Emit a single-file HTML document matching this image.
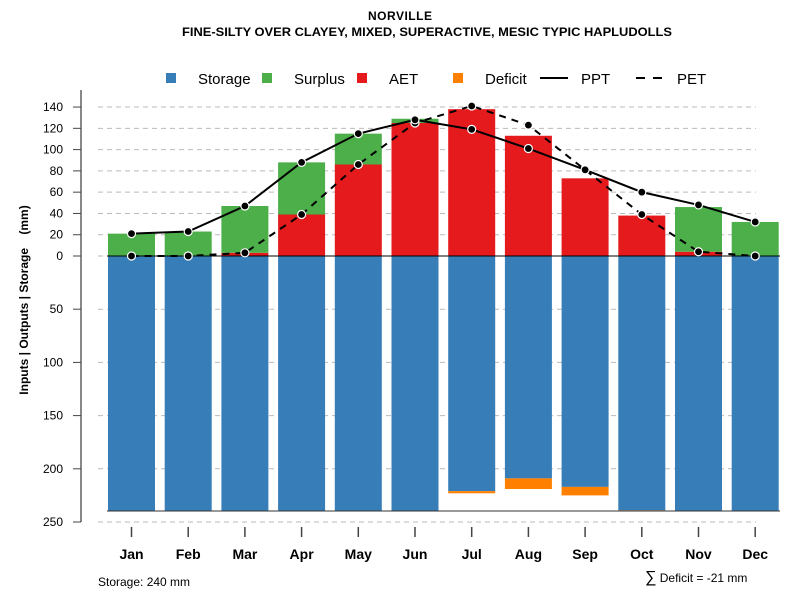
<!DOCTYPE html>
<html><head><meta charset="utf-8"><style>
body{margin:0;background:#fff;font-family:"Liberation Sans",Arial,sans-serif}
</style></head><body>
<svg width="800" height="600" viewBox="0 0 800 600" xmlns="http://www.w3.org/2000/svg" font-family="Liberation Sans, Arial, sans-serif">
<text x="400" y="20" text-anchor="middle" font-size="12" font-weight="bold" textLength="64">NORVILLE</text>
<text x="427" y="36" text-anchor="middle" font-size="12" font-weight="bold" textLength="490" lengthAdjust="spacingAndGlyphs">FINE-SILTY OVER CLAYEY, MIXED, SUPERACTIVE, MESIC TYPIC HAPLUDOLLS</text>
<g id="legend" font-size="15">
<g><rect x="166" y="73" width="10" height="10" fill="#377eb8"/><text x="198" y="84">Storage</text></g>
<g><rect x="262" y="73" width="10" height="10" fill="#4daf4a"/><text x="294" y="84">Surplus</text></g>
<g><rect x="357" y="73" width="10" height="10" fill="#e41a1c"/><text x="389" y="84">AET</text></g>
<g><rect x="453" y="73" width="10" height="10" fill="#ff7f00"/><text x="485" y="84">Deficit</text></g>
<g><line x1="540" y1="78" x2="568" y2="78" stroke="#000" stroke-width="2"/><text x="581" y="84">PPT</text></g>
<g><line x1="636" y1="78" x2="666" y2="78" stroke="#000" stroke-width="2" stroke-dasharray="9,8"/><text x="677" y="84">PET</text></g>
</g>
<line x1="81" y1="90" x2="81" y2="522" stroke="#888" stroke-width="2"/>
<text transform="translate(28,300) rotate(-90)" text-anchor="middle" font-size="12" font-weight="bold" xml:space="preserve" style="white-space:pre">Inputs | Outputs | Storage    (mm)</text>
<g id="grid"></g><g id="bars"></g><g id="lines"></g><g id="axes"></g>
<text x="98" y="586" font-size="12">Storage: 240 mm</text>
<text x="645" y="582" font-size="12"><tspan font-size="16">∑</tspan> Deficit = -21 mm</text>
</svg>
<script>
const months=["Jan","Feb","Mar","Apr","May","Jun","Jul","Aug","Sep","Oct","Nov","Dec"];
const ppt=[21,23,47,88,115,128,119,101,81,60,48,32];
const pet=[0,0,3,39,86,125,141,123,81,39,4,0];
const aet=[0,0,3,39,86,125,138,113,73,38,4,0];
const surplus=[21,23,44,49,29,4,0,0,0,0,42,32];
const storage=[240,240,240,240,240,240,221,209,217,239,240,240];
const deficit=[0,0,0,0,0,0,2,10,8,1,0,0];
const upTicks=[0,20,40,60,80,100,120,140];
const downTicks=[50,100,150,200,250];
const NS="http://www.w3.org/2000/svg";
const y0=256,k=1.064;
const yUp=v=>y0-v*k, yDn=v=>y0+v*k;
const xc=i=>131.5+i*56.7, bw=47;
function mk(tag,attrs,parent,txt){const e=document.createElementNS(NS,tag);for(const a in attrs)e.setAttribute(a,attrs[a]);if(txt!==undefined)e.textContent=txt;document.getElementById(parent).appendChild(e);return e;}
upTicks.forEach(t=>{const y=yUp(t);
 const g=mk("line",{x1:98,x2:756,y1:y,y2:y,stroke:"#bbb","stroke-dasharray":"5,4"},"grid");
 
 
 mk("line",{x1:73,x2:81,y1:y,y2:y,stroke:"#444"},"axes");
 const l=mk("text",{x:63,y:y+4,"text-anchor":"end","font-size":12},"axes",String(t));
 
 });
downTicks.forEach(t=>{const y=yDn(t);
 const g=mk("line",{x1:98,x2:756,y1:y,y2:y,stroke:"#bbb","stroke-dasharray":"5,4"},"grid");
 
 
 mk("line",{x1:73,x2:81,y1:y,y2:y,stroke:"#444"},"axes");
 const l=mk("text",{x:63,y:y+4,"text-anchor":"end","font-size":12},"axes",String(t));
 
 });
months.forEach((m,i)=>{const x=xc(i)-bw/2;
 let r=mk("rect",{x:x,y:y0,width:bw,height:storage[i]*k,fill:"#377eb8"},"bars");
 
 
 if(deficit[i]>0){r=mk("rect",{x:x,y:yDn(storage[i]),width:bw,height:deficit[i]*k,fill:"#ff7f00"},"bars");
 
 }
 if(aet[i]>0){r=mk("rect",{x:x,y:yUp(aet[i]),width:bw,height:aet[i]*k,fill:"#e41a1c"},"bars");
 
 }
 if(surplus[i]>0){r=mk("rect",{x:x,y:yUp(aet[i]+surplus[i]),width:bw,height:surplus[i]*k,fill:"#4daf4a"},"bars");
 
 }
 mk("line",{x1:xc(i),x2:xc(i),y1:527,y2:537,stroke:"#444","stroke-width":1.5},"axes");
 const l=mk("text",{x:xc(i),y:559,"text-anchor":"middle","font-size":14,"font-weight":"bold"},"axes",m);
 
 });
const bl=mk("line",{x1:107,x2:780,y1:511,y2:511,stroke:"#333","stroke-width":1},"bars");


const zl=mk("line",{x1:107,x2:780,y1:y0,y2:y0,stroke:"#000","stroke-width":1},"bars");


function series(vals,name,dash){
 const pts=vals.map((v,i)=>xc(i)+","+yUp(v)).join(" ");
 const p=mk("polyline",{points:pts,fill:"none",stroke:"#000","stroke-width":2,"stroke-dasharray":dash||"none"},"lines");
 
 
 vals.forEach((v,i)=>{const c=mk("circle",{cx:xc(i),cy:yUp(v),r:4,fill:"#000",stroke:"#fff","stroke-width":1.2},"lines");
 
 });}
series(pet,"pet","7,6");
series(ppt,"ppt");
</script>
</body></html>
